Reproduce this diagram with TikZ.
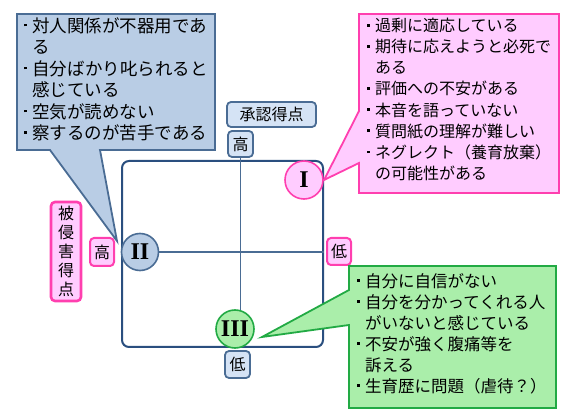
\documentclass[tikz,border=0pt]{standalone}
\usepackage{fontspec}
\setmainfont{Noto Sans CJK JP}
\newfontfamily\numfont{Liberation Serif}
\definecolor{bfill}{HTML}{B9CDE5}
\definecolor{bline}{HTML}{4A6C94}
\definecolor{frameline}{HTML}{2A4F7F}
\definecolor{lblfill}{HTML}{D5E3F5}
\definecolor{pfill}{HTML}{FFCCFF}
\definecolor{pline}{HTML}{FF3FAF}
\definecolor{gfill}{HTML}{AAEEAA}
\definecolor{gline}{HTML}{22AA44}
\tikzset{
  callb/.style={fill=bfill, draw=bline, line width=1.8pt, line join=miter},
  callp/.style={fill=pfill, draw=pline, line width=1.8pt},
  callg/.style={fill=gfill, draw=gline, line width=1.8pt},
  txt/.style={anchor=north west, inner sep=0pt, align=left},
  bluelbl/.style={draw=bline, fill=lblfill, line width=1.8pt, rounded corners=4pt, inner sep=0pt, font=\fontsize{16}{18}\selectfont},
  pinklbl/.style={draw=pline, fill=pfill, line width=2pt, rounded corners=4pt, inner sep=0pt, font=\fontsize{16}{18}\selectfont},
  axis/.style={draw=bline, line width=1.6pt},
  numc/.style={circle, inner sep=0pt, line width=1.6pt, font=\numfont\bfseries\fontsize{24}{24}\selectfont},
}
\newcommand{\bul}{\makebox[9pt][l]{\hspace{1pt}\rule[0.32em]{2.6pt}{2.6pt}}}
\newcommand{\ind}{\hspace{9pt}}
\begin{document}
\begin{tikzpicture}[x=1pt, y=-1pt]
\useasboundingbox (0,0) rectangle (570,419);
% frame
\node[draw=frameline, line width=2pt, rounded corners=7pt, minimum width=201pt, minimum height=186pt, inner sep=0pt] (fr) at (222.5,254) {};
% labels
\node[bluelbl, minimum width=89pt, minimum height=25pt] (lbl1) at (271.5,114.5) {承認得点};
\node[bluelbl, minimum width=25pt, minimum height=26pt] (hi) at (240.5,144) {高};
\node[bluelbl, minimum width=25pt, minimum height=27pt] (lo) at (237.5,364.5) {低};
\node[pinklbl, minimum width=24pt, minimum height=28pt] (hi2) at (102,252) {高};
\node[pinklbl, minimum width=24pt, minimum height=27pt] (lo2) at (339,251.5) {低};
\node[pinklbl, line width=2.6pt, minimum width=30pt, minimum height=99pt, align=center, font=\fontsize{16}{19}\selectfont] (vlbl) at (66,251.5) {被\\侵\\害\\得\\点};
% circle positions
\coordinate (p1) at (304,180);
\coordinate (p2) at (140,252);
\coordinate (p3) at (235,329);
% axes
\draw[axis] (hi.south) -- (hi.south |- p3);
\draw[axis] (p2) -- (p2 -| fr.east);
% callout tips
\coordinate (t1) at (324,180);
\coordinate (t2) at (117,241);
\coordinate (t3) at (262,337);
% callouts
\draw[callb] (17,14) -- (215,14) -- (215,150) -- (100,150) -- (t2) -- (50,150) -- (17,150) -- cycle;
\draw[callp] (359,14) -- (559,14) -- (559,193) -- (359,193) -- (359,163) -- (t1) -- (359,111) -- cycle;
\draw[callg] (349,266) -- (556,266) -- (556,408) -- (349,408) -- (349,325) -- (t3) -- (349,290) -- cycle;
% circles
\node[numc, draw=pline, fill=pfill, minimum size=38pt] (c1) at (p1) {I};
\node[numc, draw=bline, fill=bfill, minimum size=37pt] (c2) at (p2) {II};
\node[numc, draw=gline, fill=gfill, minimum size=38pt] (c3) at (p3) {III};
% texts
\node[txt, font=\fontsize{17.5}{21.5}\selectfont] (tb) at (23,17) {\bul 対人関係が不器用であ\\\ind る\\\bul 自分ばかり叱られると\\\ind 感じている\\\bul 空気が読めない\\\bul 察するのが苦手である};
\node[txt, font=\fontsize{16}{21.1}\selectfont] (tp) at (366,18) {\bul 過剰に適応している\\\bul 期待に応えようと必死で\\\ind ある\\\bul 評価への不安がある\\\bul 本音を語っていない\\\bul 質問紙の理解が難しい\\\bul ネグレクト（養育放棄）\\\ind の可能性がある};
\node[txt, font=\fontsize{16.5}{21}\selectfont] (tg) at (356,273) {\bul 自分に自信がない\\\bul 自分を分かってくれる人\\\ind がいないと感じている\\\bul 不安が強く腹痛等を\\\ind 訴える\\\bul 生育歴に問題（虐待？）};
\end{tikzpicture}
\end{document}
